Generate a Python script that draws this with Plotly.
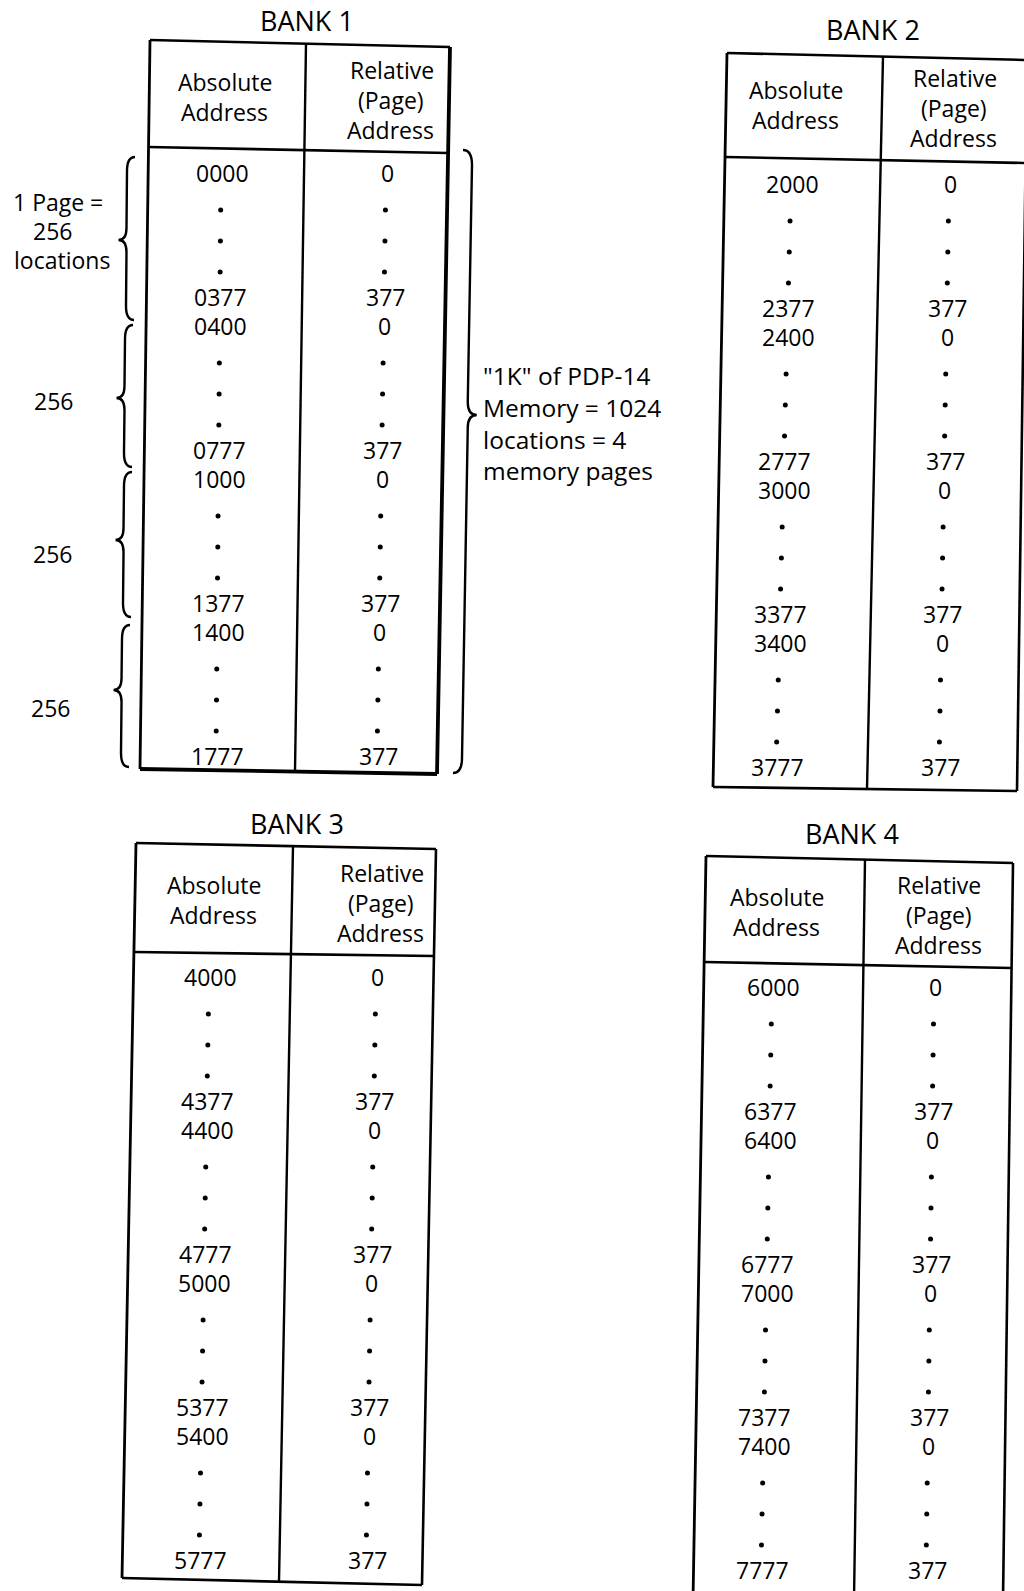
import plotly.graph_objects as go

# --- data ---
bank_names = ["BANK 1", "BANK 2", "BANK 3", "BANK 4"]
abs_labels = [
    ["0000", "0377", "0400", "0777", "1000", "1377", "1400", "1777"],
    ["2000", "2377", "2400", "2777", "3000", "3377", "3400", "3777"],
    ["4000", "4377", "4400", "4777", "5000", "5377", "5400", "5777"],
    ["6000", "6377", "6400", "6777", "7000", "7377", "7400", "7777"],
]
rel_labels = ["0", "377", "0", "377", "0", "377", "0", "377"]
abs_header = ["Absolute", "Address"]
rel_header = ["Relative", "(Page)", "Address"]
brace_labels = ["256", "256", "256"]
first_brace_label = ["1 Page =", "256", "locations"]
note_lines = ['"1K" of PDP-14', "Memory = 1024", "locations = 4", "memory pages"]

# --- layout of each (slightly skewed, scanned) table ---
# corners TL, TR, BL, BR ; header line y (left, right) ; divider x (top, bottom)
tables = [
    dict(tl=(150, 40), tr=(450, 47), bl=(140, 769), br=(437, 774), hl=(147, 153),
         dv=(306, 295), first=173, absx=(222, 217), relx=(387, 378), head=100, title=(307, 20), thick=True),
    dict(tl=(727, 53), tr=(1027, 60), bl=(713, 787), br=(1017, 791), hl=(157, 163),
         dv=(883, 867), first=184, absx=(792, 777), relx=(950, 940), head=108, title=(873, 29), thick=False),
    dict(tl=(136, 843), tr=(436, 849), bl=(122, 1578), br=(422, 1585), hl=(952, 956),
         dv=(293, 279), first=977, absx=(210, 200), relx=(377, 367), head=903, title=(297, 823), thick=False),
    dict(tl=(706, 856), tr=(1013, 863), bl=(693, 1600), br=(1003, 1600), hl=(962, 968),
         dv=(865, 854), first=987, absx=(773, 762), relx=(935, 927), head=915, title=(852, 833), thick=False),
]
PITCH = 153
ROW_OFF = [0, 37, 68, 99, 124]   # start, three dots, end of a page
FONT = "Open Sans"
NUM_SIZE = 23

fig = go.Figure()
shapes = []
annotations = []


def line(p, q, w=2.6):
    shapes.append(dict(type="line", x0=p[0], y0=p[1], x1=q[0], y1=q[1],
                       xref="x", yref="y", line=dict(color="black", width=w)))


def text(x, y, s, size=NUM_SIZE, anchor="center"):
    annotations.append(dict(x=x, y=y, text=s, xref="x", yref="y", showarrow=False,
                            xanchor=anchor, yanchor="middle",
                            font=dict(family=FONT, size=size, color="black")))


def col_x(xs, y, t):
    # column x drifts with the scan skew
    y0, y1 = t["first"], t["first"] + 3 * PITCH + ROW_OFF[-1]
    return xs[0] + (xs[1] - xs[0]) * (y - y0) / (y1 - y0)


dot_x, dot_y = [], []
for name, labels, t in zip(bank_names, abs_labels, tables):
    tl, tr, bl, br = t["tl"], t["tr"], t["bl"], t["br"]
    heavy = 3.8 if t["thick"] else 2.6
    line(tl, tr)
    line(tl, bl, 2.8)
    line(tr, br, heavy)
    line(bl, br, heavy)
    # header separator
    lx = tl[0] + (bl[0] - tl[0]) * (t["hl"][0] - tl[1]) / (bl[1] - tl[1])
    rx = tr[0] + (br[0] - tr[0]) * (t["hl"][1] - tr[1]) / (br[1] - tr[1])
    line((lx, t["hl"][0]), (rx, t["hl"][1]))
    # column divider
    ty = tl[1] + (tr[1] - tl[1]) * (t["dv"][0] - tl[0]) / (tr[0] - tl[0])
    by = bl[1] + (br[1] - bl[1]) * (t["dv"][1] - bl[0]) / (br[0] - bl[0])
    line((t["dv"][0], ty), (t["dv"][1], by), 2.4)

    text(t["title"][0], t["title"][1], name, size=27)
    hy = t["head"]
    for s, dy in zip(abs_header, [-18, 12]):
        text(col_x(t["absx"], hy + dy, t) + 2, hy + dy, s)
    for s, dy in zip(rel_header, [-30, 0, 30]):
        text(col_x(t["relx"], hy + dy, t) + 3, hy + dy, s)

    for page in range(4):
        y0 = t["first"] + page * PITCH
        ys = [y0 + o for o in ROW_OFF]
        for xs, labs in ((t["absx"], labels), (t["relx"], rel_labels)):
            text(col_x(xs, ys[0], t), ys[0], labs[2 * page])
            text(col_x(xs, ys[4], t), ys[4], labs[2 * page + 1])
            for yd in ys[1:4]:
                dot_x.append(col_x(xs, yd, t) - 1)
                dot_y.append(yd)

fig.add_trace(go.Scatter(x=dot_x, y=dot_y, mode="markers",
                         marker=dict(size=5, color="black"), hoverinfo="skip"))


def brace(xt, xb, y0, y1, ym, d, h=8):
    def sx(y):
        return xt + (xb - xt) * (y - y0) / (y1 - y0)
    e = -d
    p = (f"M {sx(y0) + e * h},{y0} Q {sx(y0)},{y0} {sx(y0)},{y0 + h + 6} "
         f"L {sx(ym)},{ym - h - 4} Q {sx(ym)},{ym} {sx(ym) + d * h},{ym} "
         f"Q {sx(ym)},{ym} {sx(ym)},{ym + h + 4} "
         f"L {sx(y1)},{y1 - h - 6} Q {sx(y1)},{y1} {sx(y1) + e * h},{y1}")
    shapes.append(dict(type="path", path=p, xref="x", yref="y",
                       line=dict(color="black", width=2.4)))


# page braces on the left of bank 1
brace(127, 126, 157, 320, 240, -1)
brace(125, 124, 325, 467, 398, -1)
brace(124, 123, 472, 617, 540, -1)
brace(122, 121, 625, 767, 690, -1)
# large brace on the right of bank 1
brace(472, 462, 150, 773, 415, 1, h=9)

for s, (x, y) in zip(first_brace_label, [(58, 202), (52, 231), (62, 260)]):
    text(x, y, s)
for s, (x, y) in zip(brace_labels, [(53, 401), (52, 554), (50, 708)]):
    text(x, y, s)
for s, y in zip(note_lines, [375, 407, 439, 470]):
    text(481, y, s, size=24.5, anchor="left")

fig.update_layout(
    width=1024, height=1591,
    margin=dict(l=0, r=0, t=0, b=0),
    paper_bgcolor="white", plot_bgcolor="white",
    showlegend=False,
    xaxis=dict(range=[0, 1024], visible=False, fixedrange=True),
    yaxis=dict(range=[1591, 0], visible=False, fixedrange=True),
    shapes=shapes,
    annotations=annotations,
)

# drop the default page margin so the figure sits at the window origin
fig.write_html("out.html", config={"displayModeBar": False},
               post_script="document.body.style.margin='0';document.body.style.overflow='hidden';")
